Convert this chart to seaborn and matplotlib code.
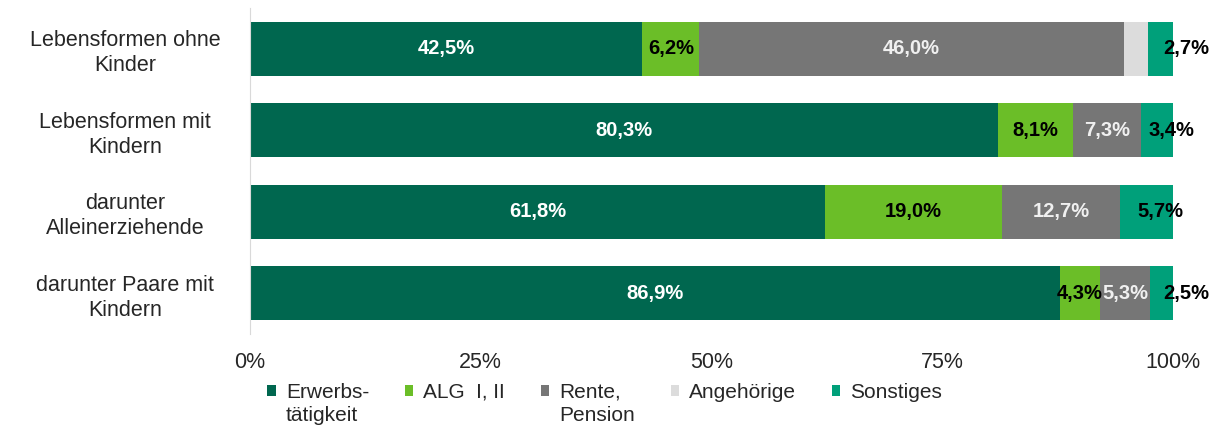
import matplotlib.pyplot as plt
import seaborn as sns
import pandas as pd
from matplotlib.patches import Patch, Rectangle
from matplotlib.legend_handler import HandlerPatch

groups = ["Lebensformen ohne\nKinder", "Lebensformen mit\nKindern",
          "darunter\nAlleinerziehende", "darunter Paare mit\nKindern"]
series = ["Erwerbs-\ntätigkeit", "ALG  I, II\n", "Rente,\nPension", "Angehörige\n", "Sonstiges\n"]
erwerb = [42.5, 80.3, 61.8, 86.9]
alg = [6.2, 8.1, 19.0, 4.3]
rente = [46.0, 7.3, 12.7, 5.3]
angehoerige = [2.6, 0.0, 0.0, 0.0]
sonstiges = [2.7, 3.4, 5.7, 2.5]

colors = ["#00674F", "#6BBE28", "#767676", "#DCDCDC", "#00A07A"]
label_colors = ["white", "black", "#F0F0F0", None, "black"]

sns.set_style("white")
plt.rcParams["font.family"] = ["Liberation Sans", "DejaVu Sans"]

values = [erwerb, alg, rente, angehoerige, sonstiges]
df = pd.DataFrame(dict(zip(series, values)), index=groups)
totals = df.sum(axis=1)
share = df.div(totals, axis=0) * 100
cum = share.cumsum(axis=1)

fig = plt.figure(figsize=(12.17, 4.30), dpi=100)
ax = fig.add_axes([0.2054, 0.2233, 0.7584, 0.7581])

# stacked bars: draw cumulative totals from the outside in
for i in reversed(range(len(series))):
    d = pd.DataFrame({"group": groups, "val": cum.iloc[:, i].values})
    sns.barplot(data=d, x="val", y="group", color=colors[i], orient="h",
                width=0.66, saturation=1, ax=ax, edgecolor="none")

for i, s in enumerate(series):
    if label_colors[i] is None:
        continue
    last = i == len(series) - 1
    for j, g in enumerate(groups):
        v = df.loc[g, s]
        if v <= 0:
            continue
        mid = cum.iloc[j, i] - share.iloc[j, i] / 2
        txt = f"{v:.1f}%".replace(".", ",")
        if last and v < 3:
            ax.text(99.0, j, txt, ha="left", va="center", fontsize=14.5,
                    fontweight="bold", color=label_colors[i])
        else:
            ax.text(mid + (1.5 if last else 0), j, txt, ha="center", va="center",
                    fontsize=14.5, fontweight="bold", color=label_colors[i])

ax.set_xlim(0, 100)
ax.set_ylim(3.5, -0.5)
ax.set_xticks([0, 25, 50, 75, 100])
ax.set_xticklabels(["0%", "25%", "50%", "75%", "100%"], fontsize=15.5)
ax.tick_params(axis="y", labelsize=15.5, length=0, pad=0)
ax.tick_params(axis="x", length=0, pad=13)
for lab in ax.get_yticklabels():
    lab.set_horizontalalignment("center")
    lab.set_x(-0.135)
    lab.set_linespacing(1.25)
ax.set_xlabel("")
ax.set_ylabel("")
for side in ["top", "right", "bottom"]:
    ax.spines[side].set_visible(False)
ax.spines["left"].set_color("#D9D9D9")


def top_square(legend, orig_handle, xdescent, ydescent, width, height, fontsize):
    # put the square next to the first line of the label
    return Rectangle((-xdescent, -ydescent + 0.66 * fontsize), width, height)


handles = [Patch(facecolor=c, edgecolor="none") for c in colors]
leg = fig.legend(handles, series, loc="center", bbox_to_anchor=(0.497, 0.060), ncol=5,
                 frameon=False, fontsize=15, handlelength=0.4, handleheight=0.4,
                 handletextpad=0.5, columnspacing=1.7,
                 handler_map={Patch: HandlerPatch(patch_func=top_square)})
for t in leg.get_texts():
    t.set_linespacing(1.3)

fig.savefig("out.png", dpi=100)
plt.close(fig)
